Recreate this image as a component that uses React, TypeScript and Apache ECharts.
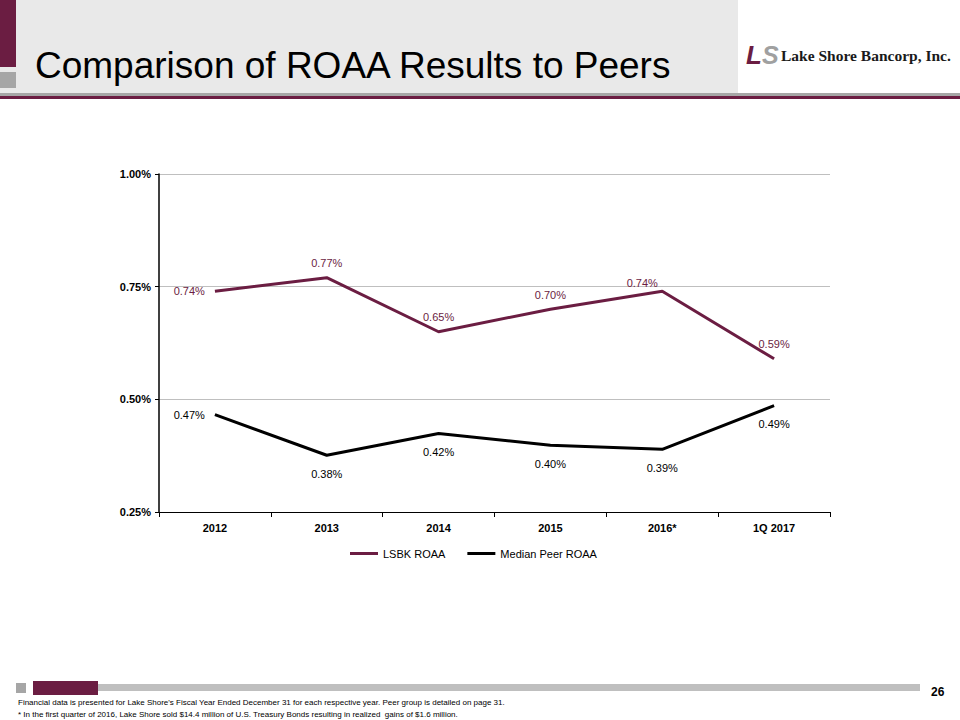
import React, { useEffect, useRef } from "react";
import * as echarts from "echarts";

const categories = ["2012", "2013", "2014", "2015", "2016*", "1Q 2017"];
const lsbkValues = [0.74, 0.77, 0.65, 0.7, 0.74, 0.59];
const peerValues = [0.466, 0.376, 0.424, 0.398, 0.389, 0.486];
const lsbkLabelPos = ["left", "top", "top", "top", "top", "top"];
const peerLabelPos = ["left", "bottom", "bottom", "bottom", "bottom", "bottom"];
const yTicks = { min: 0.25, max: 1.0, interval: 0.25 };

const MAROON = "#6b1d42";
const FONT = "Liberation Sans, Arial, sans-serif";

export default function App() {
  const ref = useRef<HTMLDivElement>(null);
  useEffect(() => {
    document.body.style.margin = "0";
    const chart = echarts.init(ref.current!, null, { renderer: "svg" });
    const fmt = (v: number) => (Math.round(v * 100) / 100).toFixed(2) + "%";
    const mk = (vals: number[], pos: string[], color: string, isPeer: boolean) =>
      vals.map((v, i) => ({
        value: v,
        label: {
          show: true,
          position: pos[i],
          distance: pos[i] === "left" ? 10 : isPeer ? 13 : 9,
          offset: !isPeer && i === 4 ? [-20, 6] : [0, 0],
          formatter: () => fmt(v),
          color,
          fontSize: 11,
          fontFamily: FONT,
        },
      }));
    chart.setOption({
      animation: false,
      backgroundColor: "#ffffff",
      textStyle: { fontFamily: FONT },
      grid: { left: 159, right: 130, top: 174, bottom: 208, containLabel: false },
      legend: {
        top: 543,
        left: 345,
        itemWidth: 28,
        itemHeight: 3,
        itemGap: 22,
        icon: "rect",
        textStyle: { fontSize: 11, color: "#000", fontFamily: FONT },
        data: [
          { name: "LSBK ROAA", itemStyle: { color: MAROON } },
          { name: "Median Peer ROAA", itemStyle: { color: "#000" } },
        ],
      },
      xAxis: {
        type: "category",
        data: categories,
        boundaryGap: true,
        axisLine: { lineStyle: { color: "#000", width: 1 } },
        axisTick: { show: true, length: 5, lineStyle: { color: "#000" } },
        axisLabel: { color: "#000", fontSize: 11, fontWeight: "bold", margin: 10, fontFamily: FONT },
      },
      yAxis: {
        type: "value",
        min: yTicks.min,
        max: yTicks.max,
        interval: yTicks.interval,
        axisLine: { show: true, lineStyle: { color: "#000", width: 1.5 } },
        axisTick: { show: true, length: 4, lineStyle: { color: "#000" } },
        axisLabel: {
          color: "#000",
          fontSize: 11,
          fontWeight: "bold",
          margin: 8,
          fontFamily: FONT,
          formatter: (v: number) => v.toFixed(2) + "%",
        },
        splitLine: { lineStyle: { color: "#bfbfbf", width: 1 } },
      },
      series: [
        {
          name: "LSBK ROAA",
          type: "line",
          data: mk(lsbkValues, lsbkLabelPos, MAROON, false),
          symbol: "circle",
          symbolSize: 0.1,
          showSymbol: true,
          lineStyle: { color: MAROON, width: 3 },
          itemStyle: { color: MAROON },
        },
        {
          name: "Median Peer ROAA",
          type: "line",
          data: mk(peerValues, peerLabelPos, "#000", true),
          symbol: "circle",
          symbolSize: 0.1,
          showSymbol: true,
          lineStyle: { color: "#000", width: 3 },
          itemStyle: { color: "#000" },
        },
      ],
      graphic: [
        { type: "rect", shape: { x: 0, y: 0, width: 738, height: 93 }, style: { fill: "#e9e9e9" }, silent: true },
        { type: "rect", shape: { x: 0, y: 0, width: 16, height: 67 }, style: { fill: MAROON } },
        { type: "rect", shape: { x: 0, y: 72, width: 16, height: 16 }, style: { fill: "#a6a6a6" } },
        { type: "rect", shape: { x: 0, y: 93, width: 960, height: 3 }, style: { fill: "#a6a6a6" } },
        { type: "rect", shape: { x: 0, y: 96, width: 960, height: 3 }, style: { fill: MAROON } },
        {
          type: "text",
          x: 35,
          y: 84,
          style: {
            text: "Comparison of ROAA Results to Peers",
            fontSize: 37,
            fontFamily: FONT,
            fill: "#000",
            verticalAlign: "bottom",
          },
        },
        {
          type: "text",
          x: 746,
          y: 68,
          style: {
            text: "{l|L}{s|S}",
            verticalAlign: "bottom",
            rich: {
              l: { fontSize: 26, fontWeight: "bold", fontStyle: "italic", fontFamily: FONT, fill: MAROON, color: MAROON },
              s: { fontSize: 25, fontWeight: "bold", fontStyle: "italic", fontFamily: FONT, fill: "#a0a0a0", color: "#a0a0a0" },
            },
          },
        },
        {
          type: "text",
          x: 781,
          y: 63,
          style: {
            text: "Lake Shore Bancorp, Inc.",
            fontSize: 15.5,
            fontWeight: "bold",
            fontFamily: "Liberation Serif, Times New Roman, serif",
            fill: "#1a1a1a",
            verticalAlign: "bottom",
          },
        },
        { type: "rect", shape: { x: 16, y: 683, width: 10, height: 10 }, style: { fill: "#a6a6a6" } },
        { type: "rect", shape: { x: 98, y: 684, width: 822, height: 7 }, style: { fill: "#bfbfbf" } },
        { type: "rect", shape: { x: 33, y: 681, width: 65, height: 14 }, style: { fill: MAROON } },
        {
          type: "text",
          x: 931,
          y: 686,
          style: { text: "26", fontSize: 12, fontWeight: "bold", fontFamily: FONT, fill: "#000" },
        },
        {
          type: "text",
          x: 18,
          y: 698,
          style: {
            text: "Financial data is presented for Lake Shore's Fiscal Year Ended December 31 for each respective year. Peer group is detailed on page 31.",
            fontSize: 8,
            fontFamily: FONT,
            fill: "#000",
          },
        },
        {
          type: "text",
          x: 18,
          y: 710,
          style: {
            text: "* In the first quarter of 2016, Lake Shore sold $14.4 million of U.S. Treasury Bonds resulting in realized  gains of $1.6 million.",
            fontSize: 8,
            fontFamily: FONT,
            fill: "#000",
          },
        },
      ],
    });
    return () => chart.dispose();
  }, []);
  return <div ref={ref} style={{ width: 960, height: 720 }} />;
}
